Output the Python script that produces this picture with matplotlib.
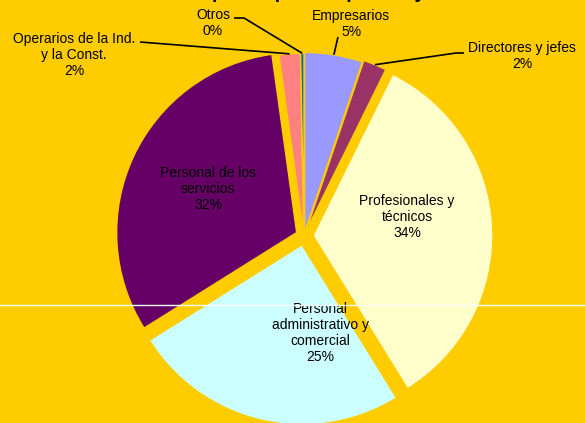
import numpy as np
import matplotlib

matplotlib.use("Agg")
import matplotlib.pyplot as plt

# share of employed people by occupation group (%)
categories = [
    "Empresarios",
    "Directores y jefes",
    "Profesionales y\ntécnicos",
    "Personal\nadministrativo y\ncomercial",
    "Personal de los\nservicios",
    "Operarios de la Ind.\ny la Const.",
    "Otros",
]
shares = [5.2, 2.1, 33.9, 24.9, 31.7, 1.9, 0.3]
pct_labels = ["5%", "2%", "34%", "25%", "32%", "2%", "0%"]
colors = ["#9999FF", "#993366", "#FFFFCC", "#CCFFFF", "#660066", "#FF8080", "#0066CC"]
explode_frac = [0.02, 0.03, 0.05, 0.05, 0.045, 0.015, 0.015]

BG = "#FFCC00"
W, H = 585, 423
CX, CY, R = 304, 236, 180

fig = plt.figure(figsize=(W / 100, H / 100), dpi=100, facecolor=BG)
ax = fig.add_axes([0, 0, 1, 1], facecolor=BG)

# y axis is flipped (pixel-like coords), so counterclock in data = clockwise on screen
# pie's explode is in data units, so scale by the radius
wedges, _ = ax.pie(
    shares,
    colors=colors,
    explode=[e * R for e in explode_frac],
    startangle=-90,
    counterclock=True,
    center=(CX, CY),
    radius=R,
    wedgeprops=dict(edgecolor=BG, linewidth=1.0),
)
ax.set_xlim(0, W)
ax.set_ylim(H, 0)
ax.set_aspect("equal")
ax.axis("off")

font = dict(family="Liberation Sans", fontsize=10, color="black", linespacing=1.2)

# labels inside the big slices
inside = {2: (407, 217), 3: (320, 333), 4: (208, 189)}
for i, (x, y) in inside.items():
    ax.text(x, y, f"{categories[i]}\n{pct_labels[i]}", ha="center", va="center",
            multialignment="center", zorder=5, **font)

# outside labels with leader lines (label pos, elbow points)
outside = {
    0: ((351, 24), [(338, 37)]),
    1: ((522, 56), [(464, 53), (456, 53)]),
    5: ((74, 55), [(140, 42)]),
    6: ((213, 23), [(234, 18), (244, 18)]),
}
for i, ((lx, ly), pts) in outside.items():
    w = wedges[i]
    mid = np.deg2rad((w.theta1 + w.theta2) / 2)
    ax_x = w.center[0] + w.r * np.cos(mid)
    ax_y = w.center[1] + w.r * np.sin(mid)
    xs = [p[0] for p in pts] + [ax_x]
    ys = [p[1] for p in pts] + [ax_y]
    ax.plot(xs, ys, color="black", linewidth=1.2, solid_capstyle="butt", zorder=4)
    ax.text(lx, ly, f"{categories[i]}\n{pct_labels[i]}", ha="center", va="center",
            multialignment="center", zorder=5, **font)

# title, cut off by the top edge in the original (only descenders show)
ax.text(325, -2, "Ocupados por ocupación y sexo", ha="center",
        va="baseline", family="Liberation Sans", fontsize=14, fontweight="bold",
        clip_on=False)

# stray white rule across the chart
ax.axhline(305, color="white", linewidth=1.0, zorder=6)

fig.savefig("out.png", dpi=100, facecolor=BG)
